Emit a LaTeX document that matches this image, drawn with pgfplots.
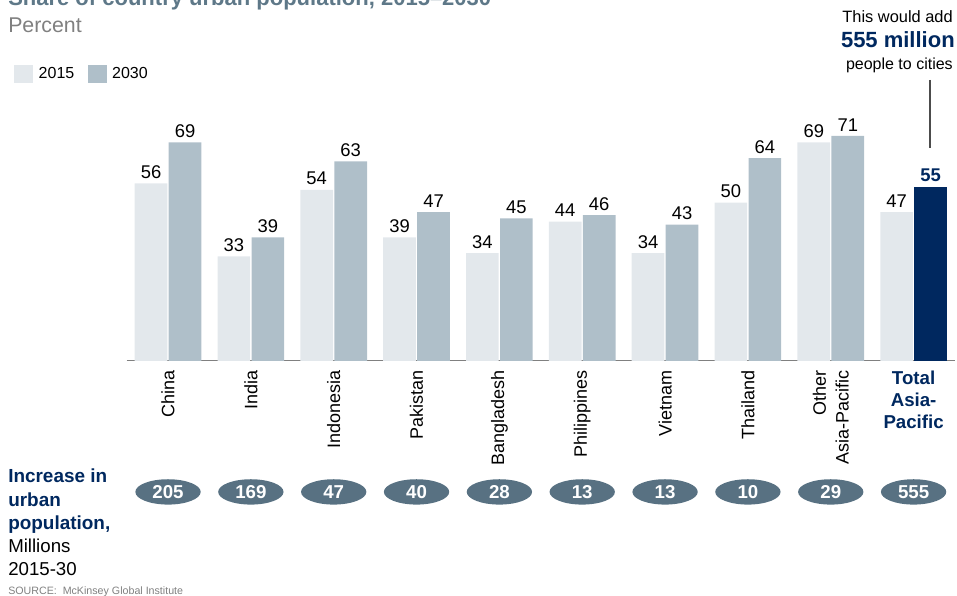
\documentclass[border=0pt]{standalone}
\usepackage{pgfplots}
\pgfplotsset{compat=1.18}
\usepackage{fontspec}
\setmainfont{Liberation Sans}
\usetikzlibrary{shapes.geometric}
\definecolor{cA}{HTML}{E3E8EC}
\definecolor{cB}{HTML}{AFBFC9}
\definecolor{cNavy}{HTML}{00285F}
\definecolor{cEll}{HTML}{587182}
\definecolor{cTitle}{HTML}{5E7888}
\definecolor{cGrey}{HTML}{808080}
\newcommand\PX[2]{({((#1)-126.6)*0.75pt},{(361-(#2))*0.75pt})}
\begin{document}
\begin{tikzpicture}
\begin{axis}[
  at={(0,0)}, anchor=south west, scale only axis,
  width=621.3pt, height=261.5pt,
  xmin=-0.5, xmax=9.5, ymin=0, ymax=110,
  axis x line*=bottom, axis y line=none,
  x axis line style={draw=gray, line width=0.75pt},
  xtick={0,...,8},
  xticklabels={China,India,Indonesia,Pakistan,Bangladesh,Philippines,Vietnam,Thailand,{Other\\Asia-Pacific}},
  xticklabel style={rotate=90, anchor=east, align=right, font=\fontsize{13.5}{17}\selectfont, inner sep=0pt},
  xticklabel shift=7pt,
  major tick length=0pt,
  extra x ticks={9},
  extra x tick labels={{Total\\Asia-\\Pacific}},
  extra x tick style={xticklabel style={rotate=-90, anchor=north, align=center, font=\bfseries\fontsize{14}{16.5}\selectfont, text=cNavy}},
  clip=false,
  /pgf/number format/assume math mode=true,
  legend style={at={(axis description cs:-0.136,0.852)}, anchor=north west, draw=none, fill=none, inner sep=0pt,
    font=\fontsize{12}{14}\selectfont, legend columns=-1,
    /tikz/every even column/.append style={column sep=8pt},
    /tikz/every odd column/.append style={column sep=2.5pt}},
  every node near coord/.append style={font=\fontsize{13.8}{16}\selectfont, text=black},
]
\addplot[ybar, bar width=24.5pt, bar shift=-12.75pt, fill=cA, draw=none, nodes near coords, forget plot,
  every node near coord/.append style={xshift=-12.75pt}]
  coordinates {(0,56)(1,33)(2,54)(3,39)(4,34)(5,44)(6,34)(7,50)(8,69)(9,47)};
\addplot[ybar, bar width=24.5pt, bar shift=12.75pt, fill=cB, draw=none, nodes near coords, forget plot,
  every node near coord/.append style={xshift=12.75pt}]
  coordinates {(0,69)(1,39)(2,63)(3,47)(4,45)(5,46)(6,43)(7,64)(8,71)};
\addplot[ybar, bar width=24.5pt, bar shift=12.75pt, fill=cNavy, draw=none, nodes near coords, forget plot,
  every node near coord/.append style={xshift=12.75pt, text=cNavy, font=\bfseries\fontsize{13.8}{16}\selectfont}]
  coordinates {(9,55)};
\addplot[draw=none, mark=none, forget plot, point meta=explicit symbolic, nodes near coords,
  every node near coord/.style={ellipse, fill=cEll, text=white, font=\bfseries\fontsize{14}{14}\selectfont,
    minimum width=49pt, minimum height=19pt, inner sep=0pt, anchor=center}]
  coordinates {(0,-41.3)[205] (1,-41.3)[169] (2,-41.3)[47] (3,-41.3)[40] (4,-41.3)[28]
               (5,-41.3)[13] (6,-41.3)[13] (7,-41.3)[10] (8,-41.3)[29] (9,-41.3)[555]};
\addlegendimage{legend image code/.code={\fill[cA] (0pt,-6.4pt) rectangle (13.5pt,6.4pt);}}
\addlegendentry{2015}
\addlegendimage{legend image code/.code={\fill[cB] (0pt,-6.4pt) rectangle (13.5pt,6.4pt);}}
\addlegendentry{2030}
\end{axis}
% titles and annotations
\node[anchor=base west, inner sep=0pt, text=cTitle, font=\bfseries\fontsize{16.5}{19}\selectfont] at \PX{8}{6} {Share of country urban population, 2015–2030};
\node[anchor=base west, inner sep=0pt, text=cGrey, font=\fontsize{16}{19}\selectfont] at \PX{8}{33} {Percent};
\node[anchor=base east, inner sep=0pt, font=\fontsize{12.3}{14}\selectfont] at \PX{953}{23} {This would add};
\node[anchor=base east, inner sep=0pt, text=cNavy, font=\bfseries\fontsize{16.5}{19}\selectfont] at \PX{955}{48} {555 million};
\node[anchor=base east, inner sep=0pt, font=\fontsize{12}{14}\selectfont] at \PX{953}{70} {people to cities};
\draw[gray!60!black, line width=0.9pt] \PX{930}{80} -- \PX{930}{148};
\node[anchor=base west, inner sep=0pt, text=cNavy, font=\bfseries\fontsize{14.2}{17}\selectfont] at \PX{8}{483} {Increase in};
\node[anchor=base west, inner sep=0pt, text=cNavy, font=\bfseries\fontsize{14.2}{17}\selectfont] at \PX{8}{506} {urban};
\node[anchor=base west, inner sep=0pt, text=cNavy, font=\bfseries\fontsize{14.2}{17}\selectfont] at \PX{8}{529} {population,};
\node[anchor=base west, inner sep=0pt, font=\fontsize{14}{17}\selectfont] at \PX{8}{552} {Millions};
\node[anchor=base west, inner sep=0pt, font=\fontsize{14}{17}\selectfont] at \PX{8}{575} {2015-30};
\node[anchor=base west, inner sep=0pt, text=cGrey, font=\fontsize{8}{9}\selectfont] at \PX{8}{594} {SOURCE:\ \ McKinsey Global Institute};
\pgfresetboundingbox
\path \PX{0}{0} rectangle \PX{957}{596};
\end{tikzpicture}
\end{document}
